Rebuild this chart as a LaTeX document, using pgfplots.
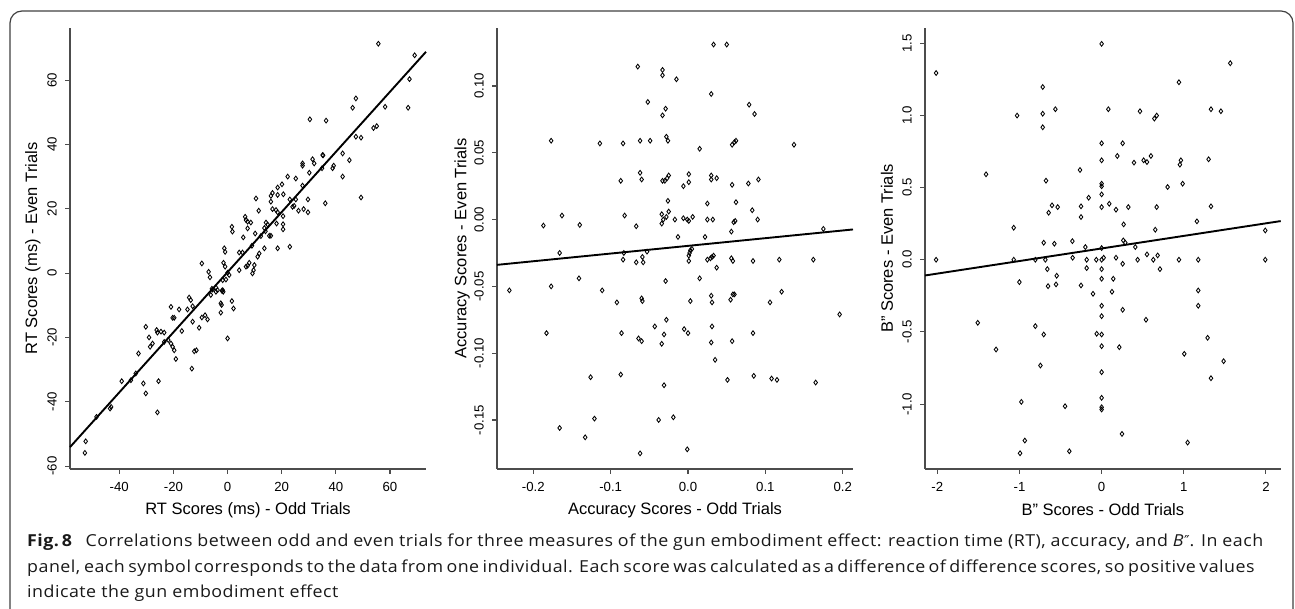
\documentclass[border=0pt]{standalone}
\usepackage{fontspec}
\setmainfont{Liberation Sans}
\newfontfamily\capfont[FakeStretch=1.08, LetterSpace=3]{Open Sans}
\newfontfamily\djv{DejaVu Sans}
\usepackage{pgfplots}
\pgfplotsset{compat=1.18}
\usepackage{pgfplotstable}

\pgfplotstableread{
x y
55.7 71.3
69.1 67.7
67.2 60.3
66.7 51.4
58.2 51.7
46.2 51.4
47.4 54.3
30.4 47.8
36.4 47.4
53.9 45.1
55.1 45.7
47.4 42.4
49.3 42.1
42.5 37.2
45.0 35.1
42.5 30.0
49.3 23.5
35.1 36.7
35.3 36.6
34.9 32.6
38.8 32.6
39.2 33.4
36.1 21.7
31.4 35.4
32.0 34.1
30.2 31.2
27.7 34.1
27.7 33.4
29.7 22.9
27.7 27.2
25.2 29.4
22.2 30.0
20.1 27.6
18.5 26.6
16.0 24.0
16.6 24.9
18.5 24.3
23.0 22.9
25.2 22.9
24.0 20.6
24.6 20.9
28.1 19.9
29.7 18.9
26.2 19.4
20.6 24.5
16.0 22.2
16.6 19.9
17.9 19.6
18.5 18.9
20.5 17.7
20.5 15.2
20.5 13.6
16.0 11.6
18.1 15.4
23.0 8.2
18.5 7.7
13.6 7.7
10.5 23.2
11.5 19.4
14.2 15.7
14.8 15.1
13.6 14.0
14.0 13.0
10.2 12.3
12.3 11.5
15.4 11.6
11.7 6.1
11.1 5.1
8.0 3.2
9.9 2.5
9.2 -0.1
9.6 0.9
5.8 11.1
7.4 13.9
6.5 17.5
6.8 16.5
7.4 16.0
8.6 15.7
9.0 8.5
4.3 6.4
5.5 6.4
6.8 2.0
7.4 2.3
4.3 0.9
1.6 14.4
1.8 12.9
-1.2 7.7
-0.9 6.6
-1.5 3.2
-0.9 2.0
0.0 0.1
0.6 -0.6
-0.6 -2.0
-1.8 -2.2
-9.5 3.0
-7.0 0.4
-6.5 -1.3
-5.8 -4.9
-4.3 -4.5
-2.1 -5.5
-5.5 -5.1
-4.3 -5.8
-3.7 -5.3
-1.8 -5.3
-1.6 -5.8
-6.2 -6.8
-2.5 -9.4
-2.2 -9.9
1.6 -8.7
2.2 -11.0
-2.5 -12.3
0.0 -20.3
-8.3 -13.1
-7.4 -14.4
-9.5 -13.8
-10.5 -17.0
-12.9 -15.1
-14.2 -7.6
-13.6 -8.4
-12.9 -10.3
-14.8 -11.3
-17.9 -11.3
-20.9 -10.5
-20.3 -13.9
-19.7 -13.9
-16.9 -18.0
-20.9 -21.9
-20.3 -22.9
-19.7 -24.0
-21.9 -20.8
-19.1 -26.7
-13.2 -29.7
-12.3 -24.3
-11.5 -24.0
-26.2 -17.7
-25.9 -18.5
-24.6 -18.2
-23.4 -18.5
-30.2 -16.7
-29.0 -20.0
-28.6 -22.9
-27.7 -21.9
-23.4 -21.4
-32.9 -25.0
-33.9 -31.2
-35.7 -33.3
-39.1 -33.6
-31.1 -34.3
-30.2 -37.4
-25.5 -33.6
-25.9 -43.3
-43.4 -42.1
-43.0 -41.6
-48.4 -44.7
-52.4 -52.3
-52.7 -55.9
}\rtdata

\pgfplotstableread{
x y
0.033 0.131
0.050 0.131
-0.065 0.1145
-0.033 0.112
-0.033 0.108
-0.015 0.105
0.030 0.094
-0.052 0.088
-0.029 0.083
-0.033 0.078
0.079 0.086
0.086 0.079
-0.028 0.062
-0.026 0.059
-0.062 0.059
-0.049 0.059
-0.177 0.059
-0.114 0.057
-0.084 0.057
0.015 0.053
0.057 0.056
0.060 0.058
0.062 0.059
0.137 0.056
-0.062 0.035
-0.060 0.030
-0.087 0.029
-0.033 0.029
-0.030 0.029
-0.027 0.031
-0.025 0.033
0.001 0.034
0.001 0.028
-0.006 0.025
0.030 0.033
0.030 0.030
0.037 0.031
0.057 0.026
0.078 0.027
0.091 0.030
-0.026 0.014
0.025 0.012
0.062 0.013
0.083 0.007
0.090 0.000
-0.082 0.003
-0.163 0.003
-0.034 0.004
-0.032 0.000
-0.028 0.002
-0.025 0.006
-0.034 -0.003
-0.017 0.000
-0.006 0.001
-0.001 0.000
0.001 -0.001
0.006 0.002
0.025 0.000
0.032 0.000
0.059 -0.002
0.061 -0.001
0.056 -0.009
-0.187 -0.0045
-0.140 -0.004
-0.067 -0.005
-0.013 -0.013
0.022 -0.013
0.175 -0.007
-0.166 -0.025
-0.083 -0.025
-0.084 -0.030
-0.067 -0.032
-0.059 -0.028
-0.058 -0.032
-0.053 -0.024
0.001 -0.027
0.002 -0.025
0.003 -0.023
0.005 -0.022
0.001 -0.031
0.025 -0.030
0.029 -0.029
0.031 -0.028
0.033 -0.027
0.037 -0.036
0.056 -0.029
0.058 -0.031
0.084 -0.031
0.118 -0.030
0.162 -0.030
-0.141 -0.044
-0.177 -0.050
-0.029 -0.046
0.015 -0.044
-0.231 -0.053
-0.111 -0.053
-0.060 -0.059
0.030 -0.057
0.058 -0.056
0.060 -0.056
0.055 -0.060
0.121 -0.054
-0.092 -0.062
-0.059 -0.061
0.003 -0.061
0.031 -0.062
0.106 -0.062
0.196 -0.071
-0.183 -0.085
-0.086 -0.085
-0.064 -0.089
-0.060 -0.091
-0.043 -0.080
-0.028 -0.075
-0.031 -0.086
-0.034 -0.093
-0.005 -0.082
0.000 -0.085
0.031 -0.080
0.030 -0.092
0.057 -0.091
0.084 -0.085
0.035 -0.105
-0.126 -0.118
-0.087 -0.116
-0.031 -0.124
0.051 -0.120
0.085 -0.117
0.108 -0.119
0.115 -0.120
0.165 -0.122
-0.121 -0.149
-0.166 -0.156
-0.133 -0.163
-0.038 -0.150
-0.019 -0.148
-0.062 -0.175
-0.001 -0.172
}\accdata

\pgfplotstableread{
x y
-2.015 1.294
-2.015 0.000
0.000 1.496
1.566 1.362
-0.717 1.197
0.941 1.230
-0.717 1.012
-0.717 0.918
-0.563 1.043
-1.029 0.999
0.082 1.043
0.467 1.029
0.642 0.978
0.670 0.999
1.331 1.043
1.452 1.029
0.000 0.807
0.256 0.807
0.000 0.689
0.191 0.719
0.394 0.673
0.511 0.689
0.552 0.677
0.600 0.719
0.965 0.689
0.953 0.659
1.302 0.696
-1.407 0.592
-0.263 0.622
-0.677 0.548
0.000 0.527
0.000 0.509
0.000 0.453
0.803 0.504
0.986 0.527
-0.158 0.430
0.093 0.388
0.175 0.347
0.325 0.365
0.000 0.365
-0.604 0.377
-0.535 0.365
-0.645 0.326
-0.251 0.370
-0.251 0.296
0.670 0.365
1.331 0.370
1.160 0.266
0.268 0.245
0.653 0.208
-1.070 0.222
1.992 0.203
-0.705 0.118
-0.575 0.111
-0.356 0.129
-0.198 0.088
0.000 0.081
0.264 0.134
0.288 0.118
0.410 0.088
0.552 0.037
0.682 0.030
-1.070 0.000
-0.807 0.000
-0.685 0.000
-0.353 0.014
-0.182 0.000
-0.065 0.000
0.000 0.000
0.025 0.014
0.175 0.014
0.438 0.000
0.629 0.000
0.941 0.000
1.176 0.000
1.992 0.000
-0.661 -0.065
-0.182 -0.058
0.000 -0.065
0.256 -0.028
0.710 -0.065
-0.547 -0.111
-1.001 -0.155
-0.652 -0.183
-0.555 -0.171
-0.251 -0.178
0.000 -0.132
0.142 -0.132
-0.105 -0.236
0.126 -0.222
1.176 -0.213
1.176 -0.319
0.000 -0.319
0.000 -0.391
0.256 -0.347
0.540 -0.416
-1.508 -0.437
-0.807 -0.460
-0.705 -0.518
-0.060 -0.513
0.000 -0.518
0.000 -0.599
0.215 -0.606
1.290 -0.541
-1.285 -0.622
1.006 -0.652
1.485 -0.703
-0.745 -0.733
0.000 -0.779
1.331 -0.821
0.000 -0.957
-0.977 -0.985
-0.445 -1.015
0.000 -1.022
0.000 -1.038
0.248 -1.207
1.047 -1.267
-0.935 -1.253
-0.993 -1.341
-0.393 -1.327
}\bdata

\pgfplotsset{
  rstyle/.style={
    scale only axis, width=356pt, height=441pt, anchor=south west,
    axis lines*=left, clip=false,
    axis line style={black!70, line width=1.3pt},
    tick align=outside, major tick length=5pt,
    tick style={black!70, line width=1.1pt},
    minor tick num=0,
    tick label style={font=\fontsize{13.2}{14}\selectfont},
    label style={font=\fontsize{16.5}{18}\selectfont},
    yticklabel style={rotate=90, anchor=south, inner sep=0pt},
    xticklabel style={anchor=north, inner sep=0pt},
    xticklabel shift=8pt, yticklabel shift=8pt,
  },
  pts/.style={only marks, mark=diamond, mark size=2.4pt, mark options={black, line width=0.85pt, fill=none}},
  fit/.style={black, line width=1.9pt},
}

\begin{document}
\begin{tikzpicture}[x=1pt,y=1pt]
\useasboundingbox (0pt,0pt) rectangle (1295pt,609pt);
\draw[black!75, line width=1.2pt, rounded corners=12pt] (10pt,-5pt) -- (10pt,598pt) -- (1293pt,598pt) -- (1293pt,-5pt);

\begin{axis}[rstyle, at={(70pt,140pt)},
  xmin=-58.2, xmax=73.3, ymin=-60.9, ymax=76.2,
  xtick={-40,-20,0,20,40,60}, xticklabels={-40,-20,0,20,40,60},
  ytick={-60,-40,-20,0,20,40,60}, yticklabels={-60,-40,-20,0,20,40,60},
  xlabel={RT Scores (ms) - Odd Trials},
  ylabel={RT Scores (ms) - Even Trials},
  xlabel style={at={(axis description cs:0.5,-0.093)}, anchor=center},
  ylabel style={at={(axis description cs:-0.104,0.5)}, anchor=center},
]
\addplot[pts] table[x=x,y=y] {\rtdata};
\addplot[fit] coordinates {(-58.2,-54.1) (73.3,68.8)};
\end{axis}

\begin{axis}[rstyle, at={(497pt,140pt)},
  xmin=-0.247, xmax=0.2133, ymin=-0.1867, ymax=0.1434,
  xtick={-0.2,-0.1,0,0.1,0.2}, xticklabels={-0.2,-0.1,0.0,0.1,0.2},
  ytick={-0.15,-0.10,-0.05,0,0.05,0.10}, yticklabels={-0.15,-0.10,-0.05,0.00,0.05,0.10},
  xlabel={Accuracy Scores - Odd Trials},
  ylabel={Accuracy Scores - Even Trials},
  xlabel style={at={(axis description cs:0.5,-0.093)}, anchor=center},
  ylabel style={at={(axis description cs:-0.098,0.5)}, anchor=center},
]
\addplot[pts] table[x=x,y=y] {\accdata};
\addplot[fit] coordinates {(-0.247,-0.0339) (0.2133,-0.0074)};
\end{axis}

\begin{axis}[rstyle, at={(925pt,140pt)}, width=355.7pt,
  xmin=-2.15, xmax=2.18, ymin=-1.45, ymax=1.606,
  xtick={-2,-1,0,1,2}, xticklabels={-2,-1,0,1,2},
  ytick={-1,-0.5,0,0.5,1,1.5}, yticklabels={-1.0,-0.5,0.0,0.5,1.0,1.5},
  xlabel={B" Scores - Odd Trials},
  ylabel={B" Scores - Even Trials},
  xlabel style={at={(axis description cs:0.5,-0.093)}, anchor=center},
  ylabel style={at={(axis description cs:-0.107,0.5)}, anchor=center},
]
\addplot[pts] table[x=x,y=y] {\bdata};
\addplot[fit] coordinates {(-2.15,-0.109) (2.18,0.268)};
\end{axis}

\begin{scope}[font=\capfont\fontsize{16.5}{21}\selectfont, color=black!90]
\node[anchor=base west, inner sep=0pt] at (27pt,62pt) {\makebox[1236pt][s]{\textbf{Fig.\,8}\hspace{0.5em} Correlations between odd and even trials for three measures of the gun embodiment effect: reaction time (RT), accuracy, and \textit{B}{\djv\fontsize{15}{18}\selectfont ″}. In each}};
\node[anchor=base west, inner sep=0pt] at (27pt,36.5pt) {\makebox[1220pt][s]{panel, each symbol corresponds to the data from one individual. Each score was calculated as a difference of difference scores, so positive values}};
\node[anchor=base west, inner sep=0pt] at (27pt,11pt) {indicate the gun embodiment effect};
\end{scope}
\end{tikzpicture}
\end{document}
